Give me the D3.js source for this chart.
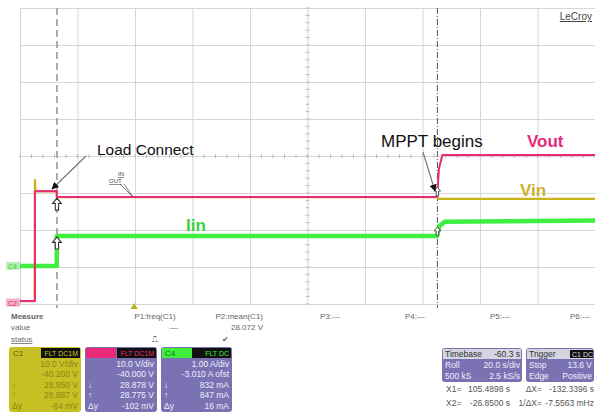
<!DOCTYPE html>
<meta charset="utf-8">
<script src="https://cdn.jsdelivr.net/npm/d3@7/dist/d3.min.js"></script>
<style>
body { margin: 0; background: #fff; }
text { font-family: "Liberation Sans", Arial, sans-serif; }
.grid line { stroke: #d6d6d6; stroke-width: 1; }
.grid path { display: none; }
.trace { fill: none; stroke-linejoin: round; }
.info { font-size: 8px; fill: #666; }
</style>
<body>
<script>

// time in seconds (20 s/div), volts (10 V/div, -40 V offset), amps (1 A/div, -3.01 A offset)
var timeDomain = [-39.7, 160.3];

var voutTime = [-39.7, -34.5, -34.5, -26.9, -26.9, 105.4, 106.0, 107.2, 160.3];
var voutVals = [0.8, 0.8, 30.5, 30.5, 28.9, 28.9, 36.5, 40.3, 40.3];

var vinTime = [-39.7, -34.6, -34.5, -34.3, -26.9, -26.9, 105.4, 105.9, 160.3];
var vinVals = [0.8, 0.8, 33.5, 30.5, 30.5, 28.9, 28.9, 28.4, 28.4];

var iinTime = [-39.7, -26.9, -26.9, 105.4, 106.2, 108.0, 160.3];
var iinVals = [0.04, 0.04, 0.85, 0.85, 1.12, 1.23, 1.27];

var cursorTimes = [-26.85, 105.49];

var measureHeads = ["P1:freq(C1)", "P2:mean(C1)", "P3:---", "P4:---", "P5:---", "P6:---"];

var c1Lines = [["", "10.0 V/div"], ["", "-40.200 V"], ["\u2193", "28.950 V"], ["\u2191", "28.887 V"], ["\u0394y", "-64 mV"]];
var c2Lines = [["", "10.0 V/div"], ["", "-40.000 V"], ["\u2193", "28.878 V"], ["\u2191", "28.775 V"], ["\u0394y", "-102 mV"]];
var c4Lines = [["", "1.00 A/div"], ["", "-3.010 A ofst"], ["\u2193", "832 mA"], ["\u2191", "847 mA"], ["\u0394y", "16 mA"]];

var width = 595, height = 415;
var gLeft = 20, gRight = 595, gTop = 8, gBottom = 304;

var svg = d3.select("body").append("svg")
    .attr("width", width)
    .attr("height", height);

var x = d3.scaleLinear().domain(timeDomain).range([gLeft, gRight]);
var yV = d3.scaleLinear().domain([0, 80]).range([gBottom, gTop]);
var yI = d3.scaleLinear().domain([-0.99, 7.01]).range([gBottom, gTop]);

// divisions grid
var divX = d3.scaleLinear().domain([0, 10]).range([gLeft, gRight]);
var divY = d3.scaleLinear().domain([0, 8]).range([gTop, gBottom]);

svg.append("g").attr("class", "grid")
    .attr("transform", "translate(0," + gBottom + ")")
    .call(d3.axisBottom(divX).tickValues(d3.range(0, 11)).tickSize(-(gBottom - gTop)).tickFormat(""));
svg.append("g").attr("class", "grid")
    .attr("transform", "translate(" + gLeft + ",0)")
    .call(d3.axisLeft(divY).tickValues(d3.range(0, 9)).tickSize(-(gRight - gLeft)).tickFormat(""));

// minor ticks on the centre lines
var cx = divX(5), cy = divY(4);
svg.append("g").selectAll("line")
    .data(d3.range(0, 10.01, 0.2))
    .enter().append("line")
    .attr("x1", function(d) { return divX(d); })
    .attr("x2", function(d) { return divX(d); })
    .attr("y1", cy - 2).attr("y2", cy + 2)
    .attr("stroke", "#bbb");
svg.append("g").selectAll("line")
    .data(d3.range(0, 8.01, 0.2))
    .enter().append("line")
    .attr("y1", function(d) { return divY(d); })
    .attr("y2", function(d) { return divY(d); })
    .attr("x1", cx - 2).attr("x2", cx + 2)
    .attr("stroke", "#bbb");

// cursors
svg.append("line")
    .attr("x1", x(cursorTimes[0])).attr("x2", x(cursorTimes[0]))
    .attr("y1", gTop).attr("y2", gBottom + 4)
    .attr("stroke", "#999").attr("stroke-width", 1.6)
    .attr("stroke-dasharray", "7,4");
svg.append("line")
    .attr("x1", x(cursorTimes[1])).attr("x2", x(cursorTimes[1]))
    .attr("y1", gTop).attr("y2", gBottom + 4)
    .attr("stroke", "#555").attr("stroke-width", 1)
    .attr("stroke-dasharray", "6,2,1,2");

function series(t, v) {
  return t.map(function(d, i) { return [d, v[i]]; });
}

var lineV = d3.line().x(function(d) { return x(d[0]); }).y(function(d) { return yV(d[1]); });
var lineI = d3.line().x(function(d) { return x(d[0]); }).y(function(d) { return yI(d[1]); });

svg.append("path").attr("class", "trace")
    .attr("d", lineI(series(iinTime, iinVals)))
    .attr("stroke", "#3fee3f").attr("stroke-width", 4.5);
svg.append("path").attr("class", "trace")
    .attr("d", lineV(series(vinTime, vinVals)))
    .attr("stroke", "#c8b416").attr("stroke-width", 2.2);
svg.append("path").attr("class", "trace")
    .attr("d", lineV(series(voutTime.slice(0, 6), voutVals.slice(0, 6))))
    .attr("stroke", "#ea2a78").attr("stroke-width", 2);
svg.append("path").attr("class", "trace")
    .attr("d", lineV(series(voutTime.slice(5), voutVals.slice(5))))
    .attr("stroke", "#ea2a78").attr("stroke-width", 2);

// channel markers on the left
function chanMark(y, color, label) {
  svg.append("rect").attr("x", 6).attr("y", y - 4).attr("width", 14).attr("height", 8)
      .attr("fill", color).attr("opacity", 0.35);
  svg.append("text").attr("x", 8).attr("y", y + 3).text(label)
      .attr("font-size", 7).attr("fill", color);
}
chanMark(yI(0.04), "#2fcf2f", "C4");
chanMark(yV(0.4), "#e0206e", "C2");

// trigger marker
svg.append("path")
    .attr("d", d3.symbol().type(d3.symbolTriangle).size(22))
    .attr("transform", "translate(" + x(0) + "," + (gBottom + 3) + ")")
    .attr("fill", "#b8b020");

// hollow arrows on the cursors
function hollowArrow(px, py, s) {
  var p = "M0,0 L-4,5 L-1.5,5 L-1.5,11 L1.5,11 L1.5,5 L4,5 Z";
  svg.append("path").attr("d", p)
      .attr("transform", "translate(" + px + "," + py + ") scale(" + s + ")")
      .attr("fill", "#fff").attr("stroke", "#333").attr("stroke-width", 1);
}
hollowArrow(x(cursorTimes[0]), yV(28.9) + 1, 1.1);
hollowArrow(x(cursorTimes[0]), yI(0.85) + 1, 1.1);
hollowArrow(x(cursorTimes[1]), yV(28.9) - 10, 0.8);
hollowArrow(x(cursorTimes[1]), yI(0.85) - 9, 0.8);

// annotation arrows
svg.append("defs").append("marker")
    .attr("id", "head").attr("viewBox", "0 0 10 10")
    .attr("refX", 9).attr("refY", 5)
    .attr("markerWidth", 6).attr("markerHeight", 6)
    .attr("orient", "auto")
  .append("path").attr("d", "M0,0 L10,5 L0,10 Z").attr("fill", "#111");

svg.append("line").attr("x1", 86).attr("y1", 156).attr("x2", 52).attr("y2", 189)
    .attr("stroke", "#777").attr("stroke-width", 1.2).attr("marker-end", "url(#head)");
svg.append("line").attr("x1", 423).attr("y1", 152).attr("x2", 435).attr("y2", 191)
    .attr("stroke", "#777").attr("stroke-width", 1.2).attr("marker-end", "url(#head)");

// IN / OUT tags
svg.append("text").attr("x", 118).attr("y", 176).text("IN")
    .attr("font-size", 6).attr("fill", "#444").attr("text-decoration", "underline");
svg.append("text").attr("x", 109).attr("y", 183).text("OUT")
    .attr("font-size", 6).attr("fill", "#444").attr("text-decoration", "underline");
svg.append("path").attr("d", "M120,184 L133,197 M124,184 L133,197")
    .attr("stroke", "#555").attr("fill", "none").attr("stroke-width", 0.8);

// labels
svg.append("text").attr("x", 97).attr("y", 155).text("Load Connect")
    .attr("font-size", 15.5).attr("fill", "#111");
svg.append("text").attr("x", 381).attr("y", 147).text("MPPT begins")
    .attr("font-size", 17).attr("fill", "#111");
svg.append("text").attr("x", 527).attr("y", 147).text("Vout")
    .attr("font-size", 17).attr("font-weight", "bold").attr("fill", "#ea2a78");
svg.append("text").attr("x", 520).attr("y", 196).text("Vin")
    .attr("font-size", 17).attr("font-weight", "bold").attr("fill", "#cdb02a");
svg.append("text").attr("x", 186).attr("y", 231).text("Iin")
    .attr("font-size", 17).attr("font-weight", "bold").attr("fill", "#3ccf3c");
svg.append("text").attr("x", 592).attr("y", 20).text("LeCroy")
    .attr("text-anchor", "end").attr("font-size", 10).attr("fill", "#444")
    .attr("text-decoration", "underline");

// measure table
var mx = [155, 263, 330, 415, 500, 580];
svg.append("text").attr("class", "info").attr("x", 11).attr("y", 319).text("Measure")
    .attr("fill", "#333").attr("font-weight", "bold");
svg.append("text").attr("class", "info").attr("x", 11).attr("y", 330).text("value");
svg.append("text").attr("class", "info").attr("x", 11).attr("y", 342).text("status")
    .attr("fill", "#556").attr("text-decoration", "underline");
svg.selectAll(".mhead").data(measureHeads).enter().append("text")
    .attr("class", "info")
    .attr("x", function(d, i) { return mx[i]; })
    .attr("y", 319)
    .attr("text-anchor", function(d, i) { return i == 1 ? "end" : "middle"; })
    .attr("fill", "#444")
    .text(function(d) { return d; });
svg.append("text").attr("class", "info").attr("x", 178).attr("y", 330).attr("text-anchor", "end").text("\u2014");
svg.append("text").attr("class", "info").attr("x", 263).attr("y", 330).attr("text-anchor", "end").text("28.072 V");
svg.append("text").attr("class", "info").attr("x", 155).attr("y", 342).attr("text-anchor", "middle").text("\u238D");
svg.append("text").attr("class", "info").attr("x", 225).attr("y", 342).attr("text-anchor", "middle")
    .attr("fill", "#333").text("\u2714");

// channel boxes
function chanBox(bx, bw, bg, headColor, headW, label, badge, badgeText, lines, textColor) {
  var g = svg.append("g").attr("transform", "translate(" + bx + ",347)");
  g.append("rect").attr("width", bw).attr("height", 65).attr("rx", 3).attr("fill", bg);
  g.append("rect").attr("x", 1).attr("y", 1).attr("width", headW).attr("height", 10)
      .attr("fill", headColor);
  g.append("rect").attr("x", bw - 40).attr("y", 1).attr("width", 39).attr("height", 10)
      .attr("fill", "#111");
  g.append("text").attr("x", 4).attr("y", 9).attr("font-size", 8)
      .attr("fill", label.color).text(label.text);
  g.append("text").attr("x", bw - 3).attr("y", 9).attr("font-size", 7)
      .attr("text-anchor", "end").attr("fill", badgeText).text(badge);
  lines.forEach(function(l, i) {
    var yy = 20 + i * 10.4;
    g.append("text").attr("x", 3).attr("y", yy).attr("font-size", 8.5)
        .attr("fill", textColor).text(l[0]);
    g.append("text").attr("x", bw - 3).attr("y", yy).attr("font-size", 8.5)
        .attr("text-anchor", "end").attr("fill", textColor).text(l[1]);
  });
}
chanBox(9, 72, "#c7c024", "#c7c024", 30, {text: "C1", color: "#5e5a10"}, "FLT DC1M", "#c7c024",
        c1Lines, "#8c8614");
chanBox(85, 72, "#7b72b4", "#ea2a78", 30, {text: "C2", color: "#ea2a78"}, "FLT DC1M", "#ea2a78",
        c2Lines, "#eeeefa");
chanBox(161, 71, "#7b72b4", "#3fee3f", 40, {text: "C4", color: "#1a6a1a"}, "FLT DC", "#3fee3f",
        c4Lines, "#eeeefa");

// timebase and trigger boxes
function infoBox(bx, bw, head, headVal, rows, badge) {
  var g = svg.append("g").attr("transform", "translate(" + bx + ",348)");
  g.append("rect").attr("width", bw).attr("height", 34).attr("rx", 3).attr("fill", "#7b72b4");
  g.append("rect").attr("x", 1).attr("y", 1).attr("width", bw - 2).attr("height", 10)
      .attr("fill", "#d4d4e2");
  g.append("text").attr("x", 3).attr("y", 9).attr("font-size", 8.5).attr("fill", "#333").text(head);
  if (badge) {
    g.append("rect").attr("x", bw - 24).attr("y", 2).attr("width", 23).attr("height", 8).attr("fill", "#111");
    g.append("text").attr("x", bw - 22).attr("y", 9).attr("font-size", 7).attr("fill", "#ddd").text(badge);
  } else {
    g.append("text").attr("x", bw - 2).attr("y", 9).attr("font-size", 8.5)
        .attr("text-anchor", "end").attr("fill", "#333").text(headVal);
  }
  rows.forEach(function(r, i) {
    var yy = 20 + i * 11;
    g.append("text").attr("x", 3).attr("y", yy).attr("font-size", 8.5).attr("fill", "#eeeefa").text(r[0]);
    g.append("text").attr("x", bw - 2).attr("y", yy).attr("font-size", 8.5)
        .attr("text-anchor", "end").attr("fill", "#eeeefa").text(r[1]);
  });
}
infoBox(442, 80, "Timebase", "-60.3 s", [["Roll", "20.0 s/div"], ["500 kS", "2.5 kS/s"]]);
infoBox(526, 68, "Trigger", "", [["Stop", "13.6 V"], ["Edge", "Positive"]], "C1 DC");

// cursor readout
var readout = [
  [["X1=", 446, "start"], ["105.4898 s", 510, "end"], ["\u0394X=", 542, "end"], ["-132.3396 s", 594, "end"]],
  [["X2=", 446, "start"], ["-26.8500 s", 510, "end"], ["1/\u0394X=", 542, "end"], ["-7.5563 mHz", 594, "end"]]
];
readout.forEach(function(row, i) {
  row.forEach(function(c) {
    svg.append("text").attr("x", c[1]).attr("y", 392 + i * 14)
        .attr("text-anchor", c[2]).attr("font-size", 8.5).attr("fill", "#555").text(c[0]);
  });
});

</script>
</body>
</html>
